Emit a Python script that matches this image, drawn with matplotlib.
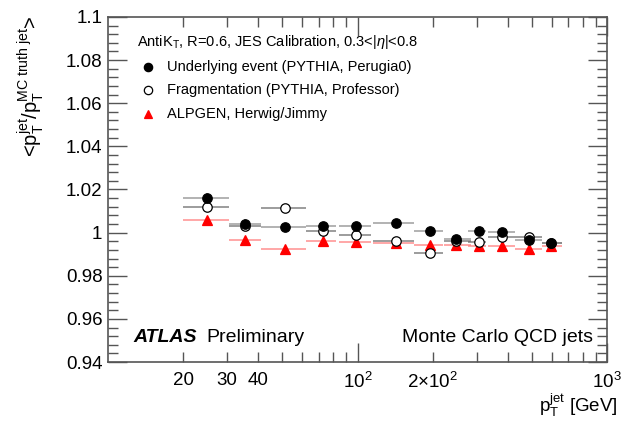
import matplotlib
matplotlib.use('Agg')
from matplotlib import pyplot as plt
from matplotlib.ticker import FixedLocator, MultipleLocator, FuncFormatter
import numpy as np

plt.rcParams['font.family'] = ['Liberation Sans', 'DejaVu Sans']
plt.rcParams['mathtext.fontset'] = 'custom'
plt.rcParams['mathtext.rm'] = 'Liberation Sans'
plt.rcParams['mathtext.it'] = 'Liberation Sans:italic'
plt.rcParams['mathtext.bf'] = 'Liberation Sans:bold'

# pT bins (GeV): centre and bin edges
pt = [25, 35.5, 51, 72.5, 99, 142, 196, 249, 306, 380, 486, 596]
pt_lo = [20, 30.5, 41, 62, 84, 115, 169, 223, 277, 333, 427, 547]
pt_hi = [30.5, 41, 62, 82, 113, 168, 221, 286, 328, 427, 547, 657]

# mean response per bin for each MC sample
ue_perugia0 = [1.0159, 1.0042, 1.0025, 1.0029, 1.0029, 1.0043, 1.0008, 0.9971, 1.0008, 1.0002, 0.9966, 0.9954]
ue_err = [0.0025, 0.0020, 0.0012, 0.0008, 0.0008, 0.0007, 0.0008, 0.0008, 0.0008, 0.0008, 0.0008, 0.0008]
frag_professor = [1.0121, 1.0031, 1.0115, 1.0006, 0.9991, 0.9963, 0.9904, 0.9962, 0.9958, 0.9981, 0.9980, 0.9950]
frag_err = [0.0020, 0.0015, 0.0010, 0.0008, 0.0008, 0.0007, 0.0008, 0.0008, 0.0008, 0.0008, 0.0008, 0.0008]
alpgen_herwig = [1.0059, 0.9968, 0.9923, 0.9963, 0.9958, 0.9950, 0.9944, 0.9944, 0.9940, 0.9940, 0.9924, 0.9938]
alpgen_err = [0.0010, 0.0008, 0.0008, 0.0006, 0.0006, 0.0006, 0.0006, 0.0006, 0.0006, 0.0006, 0.0006, 0.0006]

legend_labels = ['Underlying event (PYTHIA, Perugia0)',
                 'Fragmentation (PYTHIA, Professor)',
                 'ALPGEN, Herwig/Jimmy']

frame_color = '#555555'

fig = plt.figure(figsize=(6.33, 4.22), dpi=100)
ax = fig.add_axes([0.1706, 0.142, 0.7884, 0.818])


def draw_series(y, yerr, marker, mfc, mec, ecolor, z):
    x = np.array(pt)
    xerr = [x - np.array(pt_lo), np.array(pt_hi) - x]
    ax.errorbar(x, y, xerr=xerr, yerr=yerr, fmt=marker, ms=6.8,
                mfc=mfc, mec=mec, mew=0.9, ecolor=ecolor, elinewidth=1.3,
                capsize=0, zorder=z)


draw_series(alpgen_herwig, alpgen_err, '^', 'red', 'red', (1.0, 0.5, 0.5, 0.75), 3)
draw_series(frag_professor, frag_err, 'o', 'white', 'black', (0.4, 0.4, 0.4, 0.7), 4)
draw_series(ue_perugia0, ue_err, 'o', 'black', 'black', (0.5, 0.5, 0.5, 0.65), 5)

ax.set_xscale('log')
ax.set_xlim(10, 1000)
ax.set_ylim(0.94, 1.1)

# x ticks: decades long, the rest short; only a few get labels
ax.xaxis.set_major_locator(FixedLocator([100, 1000]))
ax.xaxis.set_minor_locator(FixedLocator([20, 30, 40, 50, 60, 70, 80, 90,
                                         200, 300, 400, 500, 600, 700, 800, 900]))
ax.xaxis.set_major_formatter(FuncFormatter(lambda v, p: r'$10^{%d}$' % round(np.log10(v))))
minor_labels = {20: '20', 30: '30', 40: '40', 200: r'$2{\times}10^{2}$'}
ax.xaxis.set_minor_formatter(FuncFormatter(lambda v, p: minor_labels.get(int(round(v)), '')))

ax.yaxis.set_major_locator(MultipleLocator(0.02))
ax.yaxis.set_minor_locator(MultipleLocator(0.004))
ax.yaxis.set_major_formatter(FuncFormatter(lambda v, p: '%g' % round(v, 3)))

ax.tick_params(which='both', direction='in', top=True, right=True, color=frame_color)
ax.tick_params(which='major', length=14, width=1.0)
ax.tick_params(which='minor', length=7, width=1.0)
ax.tick_params(axis='y', which='major', labelsize=13.5, pad=4)
ax.tick_params(axis='x', which='both', labelsize=13.5, pad=7)
for spine in ax.spines.values():
    spine.set_color(frame_color)
    spine.set_linewidth(1.2)

ax.set_xlabel(r'p$_{\mathrm{T}}^{\mathrm{jet}}$ [GeV]', fontsize=13.5, ha='right')
ax.xaxis.set_label_coords(1.022, -0.085)
ax.set_ylabel(r'<p$_{\mathrm{T}}^{\mathrm{jet}}$/p$_{\mathrm{T}}^{\mathrm{MC\ truth\ jet}}$>',
              fontsize=14.5, ha='right')
ax.yaxis.set_label_coords(-0.125, 1.005)

# header and hand-made legend
ax.text(0.058, 0.928, r'AntiK$_{\mathrm{T}}$, R=0.6, JES Calibration, 0.3<|$\eta$|<0.8',
        transform=ax.transAxes, fontsize=10.5, va='center')
legend_style = [('o', 'black', 'black'), ('o', 'white', 'black'), ('^', 'red', 'red')]
for i, (label, (m, fc, ec)) in enumerate(zip(legend_labels, legend_style)):
    yy = 0.855 - i * 0.068
    ax.plot([0.08], [yy], marker=m, ms=6, mfc=fc, mec=ec, mew=0.9,
            transform=ax.transAxes, clip_on=False)
    ax.text(0.118, yy, label, transform=ax.transAxes, fontsize=10.5, va='center')

ax.text(0.05, 0.072, 'ATLAS', transform=ax.transAxes, fontsize=14,
        fontweight='bold', fontstyle='italic', va='center')
ax.text(0.197, 0.072, 'Preliminary', transform=ax.transAxes, fontsize=14, va='center')
ax.text(0.972, 0.072, 'Monte Carlo QCD jets', transform=ax.transAxes, fontsize=14,
        va='center', ha='right')

fig.savefig('out.png', dpi=100)
